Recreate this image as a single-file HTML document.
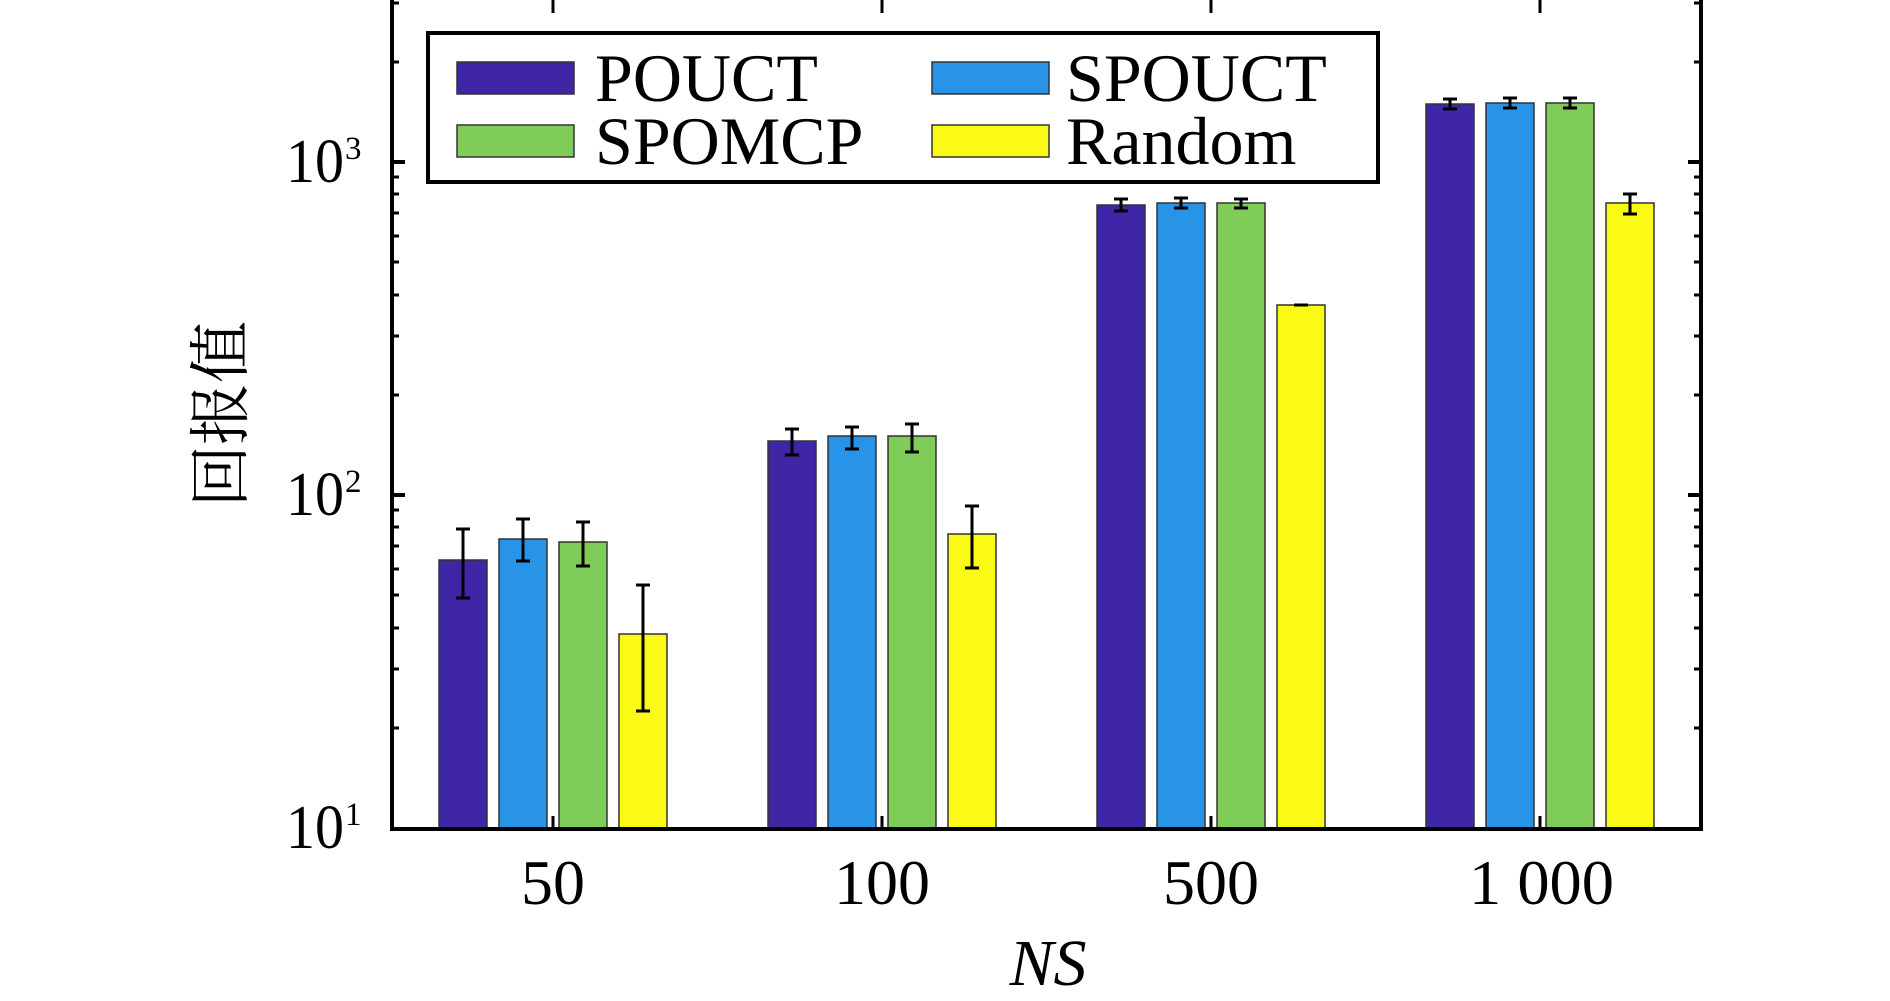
<!DOCTYPE html>
<html><head><meta charset="utf-8"><style>
html,body{margin:0;padding:0;background:#fff;}
svg{display:block;}
text{font-family:"Liberation Serif","Noto Serif CJK SC",serif;fill:#000;}
</style></head><body>
<svg width="1890" height="1001" viewBox="0 0 1890 1001" xmlns="http://www.w3.org/2000/svg">
<rect width="1890" height="1001" fill="#fff"/>
<g id="bars" stroke="#333" stroke-width="1.5">
<rect x="439" y="560" width="48" height="269" fill="#3f26a7"/>
<rect x="499" y="539" width="48" height="290" fill="#2894e8"/>
<rect x="559" y="542" width="48" height="287" fill="#80cc58"/>
<rect x="619" y="634" width="48" height="195" fill="#fafa14"/>
<rect x="768" y="441" width="48" height="388" fill="#3f26a7"/>
<rect x="828" y="436" width="48" height="393" fill="#2894e8"/>
<rect x="888" y="436" width="48" height="393" fill="#80cc58"/>
<rect x="948" y="534" width="48" height="295" fill="#fafa14"/>
<rect x="1097" y="205" width="48" height="624" fill="#3f26a7"/>
<rect x="1157" y="203" width="48" height="626" fill="#2894e8"/>
<rect x="1217" y="203" width="48" height="626" fill="#80cc58"/>
<rect x="1277" y="305" width="48" height="524" fill="#fafa14"/>
<rect x="1426" y="104" width="48" height="725" fill="#3f26a7"/>
<rect x="1486" y="103" width="48" height="726" fill="#2894e8"/>
<rect x="1546" y="103" width="48" height="726" fill="#80cc58"/>
<rect x="1606" y="203" width="48" height="626" fill="#fafa14"/>
</g>
<g stroke="#000" stroke-width="3" fill="none">
<path d="M463 529V598M456 529H470M456 598H470"/>
<path d="M523 519V561M516 519H530M516 561H530"/>
<path d="M583 522V566M576 522H590M576 566H590"/>
<path d="M643 585V711M636 585H650M636 711H650"/>
<path d="M792 429V455M785 429H799M785 455H799"/>
<path d="M852 427V449M845 427H859M845 449H859"/>
<path d="M912 424V452M905 424H919M905 452H919"/>
<path d="M972 506V568M965 506H979M965 568H979"/>
<path d="M1121 199V211M1114 199H1128M1114 211H1128"/>
<path d="M1181 198V208M1174 198H1188M1174 208H1188"/>
<path d="M1241 199V208M1234 199H1248M1234 208H1248"/>
<path d="M1294 305H1308"/>
<path d="M1450 99V109M1443 99H1457M1443 109H1457"/>
<path d="M1510 98V108M1503 98H1517M1503 108H1517"/>
<path d="M1570 98V108M1563 98H1577M1563 108H1577"/>
<path d="M1630 194V214M1623 194H1637M1623 214H1637"/>
</g>
<g stroke="#000" fill="none">
<path d="M392 0V829H1701V0" stroke-width="4"/>
<path d="M392 162h13M392 495h13M1701 162h-13M1701 495h-13" stroke-width="4"/>
<path d="M553 829v-13M882 829v-13M1211 829v-13M1540 829v-13M553 0v13M882 0v13M1211 0v13M1540 0v13" stroke-width="3"/>
<path stroke-width="3" d="
M392 728h7M392 669h7M392 628h7M392 595h7M392 569h7M392 546h7M392 527h7M392 510h7
M392 395h7M392 336h7M392 295h7M392 262h7M392 236h7M392 213h7M392 194h7M392 177h7
M392 62h7M392 3h7
M1701 728h-7M1701 669h-7M1701 628h-7M1701 595h-7M1701 569h-7M1701 546h-7M1701 527h-7M1701 510h-7
M1701 395h-7M1701 336h-7M1701 295h-7M1701 262h-7M1701 236h-7M1701 213h-7M1701 194h-7M1701 177h-7
M1701 62h-7M1701 3h-7"/>
</g>
<text x="286" y="182" font-size="62" textLength="58" lengthAdjust="spacingAndGlyphs">10</text><text x="345" y="159" font-size="33">3</text>
<text x="286" y="515" font-size="62" textLength="58" lengthAdjust="spacingAndGlyphs">10</text><text x="345" y="492" font-size="33">2</text>
<text x="286" y="848" font-size="62" textLength="58" lengthAdjust="spacingAndGlyphs">10</text><text x="345" y="825" font-size="33">1</text>
<text x="553" y="904" font-size="64" text-anchor="middle">50</text>
<text x="882" y="904" font-size="64" text-anchor="middle">100</text>
<text x="1211" y="904" font-size="64" text-anchor="middle">500</text>
<text x="1469" y="904" font-size="64" textLength="145" lengthAdjust="spacingAndGlyphs">1 000</text>
<text x="1048" y="985" font-size="66" font-style="italic" text-anchor="middle">NS</text>
<text transform="translate(242,414) rotate(-90)" font-size="62" text-anchor="middle" style="font-family:'Noto Serif CJK SC','Noto Sans CJK SC',serif">回报值</text>
<rect x="428" y="33" width="950" height="149" fill="#fff" stroke="#000" stroke-width="4"/>
<g stroke="#333" stroke-width="1.5">
<rect x="457" y="62" width="117" height="32" fill="#3f26a7"/>
<rect x="457" y="125" width="117" height="32" fill="#80cc58"/>
<rect x="932" y="62" width="117" height="32" fill="#2894e8"/>
<rect x="932" y="125" width="117" height="32" fill="#fafa14"/>
</g>
<text x="595" y="101" font-size="68">POUCT</text>
<text x="595" y="164" font-size="68">SPOMCP</text>
<text x="1066" y="101" font-size="68">SPOUCT</text>
<text x="1066" y="164" font-size="68">Random</text>
</svg>
</body></html>
